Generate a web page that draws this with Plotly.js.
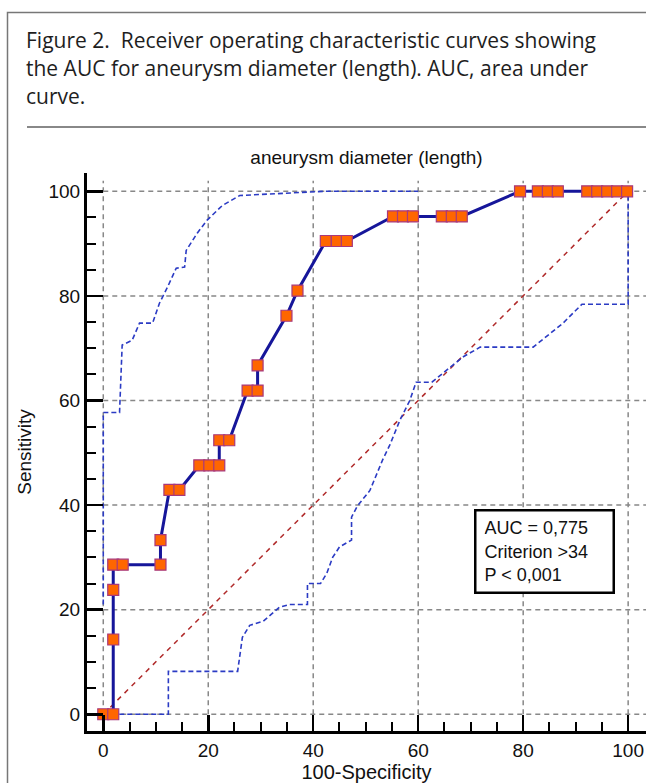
<!DOCTYPE html>
<html>
<head>
<meta charset="utf-8">
<script src="https://cdn.plot.ly/plotly-3.0.1.min.js"></script>
<style>
html,body{margin:0;padding:0;background:#fff;}
#chart{width:646px;height:783px;}
</style>
</head>
<body>
<div id="chart"></div>
<script>
// ROC curve: 100-Specificity (x) vs Sensitivity (y)
const rocX = [0, 1.9, 1.9, 1.9, 1.9, 3.7, 10.9, 10.9, 12.6, 14.5, 18.3, 20.2, 22.1, 22.1, 24.0, 27.5, 29.4, 29.4, 34.9, 37.0, 42.4, 44.5, 46.4, 55.2, 57.1, 59.0, 64.5, 66.4, 68.3, 79.4, 82.8, 84.7, 86.6, 92.2, 94.1, 96.0, 97.9, 99.8];
const rocY = [0, 0, 14.3, 23.8, 28.6, 28.6, 28.6, 33.3, 42.9, 42.9, 47.6, 47.6, 47.6, 52.4, 52.4, 61.9, 61.9, 66.7, 76.2, 81.0, 90.5, 90.5, 90.5, 95.2, 95.2, 95.2, 95.2, 95.2, 95.2, 100, 100, 100, 100, 100, 100, 100, 100, 100];

// Upper 95% confidence bound
const upX = [0, 0, 3.1, 3.6, 5.5, 6.9, 9.4, 10.7, 12.2, 13.9, 15.5, 15.8, 17.9, 19.8, 22.7, 26.0, 30.0, 35.0, 42.0, 60.0];
const upY = [21, 57.7, 57.7, 70.6, 71.5, 74.8, 74.8, 78.6, 81.6, 85.3, 85.5, 88.7, 92.0, 94.5, 97.3, 99.2, 99.4, 99.6, 100, 100];

// Lower 95% confidence bound
const loX = [0, 12.4, 12.4, 25.6, 26.5, 27.9, 30.5, 33.6, 35.5, 38.9, 38.9, 41.4, 42.6, 43.7, 45.0, 47.3, 47.3, 48.4, 50.8, 53.2, 54.6, 56.5, 58.4, 59.6, 62.6, 65.5, 68.5, 71.8, 81.9, 87.6, 91.2, 100, 100];
const loY = [0, 0, 8.2, 8.2, 14.7, 17.0, 17.8, 20.5, 21.0, 21.0, 25.0, 25.0, 27.0, 30.0, 32.0, 33.3, 37.7, 39.8, 42.8, 48.6, 51.5, 56.2, 60.0, 63.5, 63.5, 65.8, 68.3, 70.2, 70.2, 74.8, 78.4, 78.4, 100];

// Reference diagonal
const diagX = [0, 100];
const diagY = [0, 100];

const tickVals = [0, 20, 40, 60, 80, 100];
const tickText = ['0', '20', '40', '60', '80', '100'];

const captionLines = [
  'Figure 2.  Receiver operating characteristic curves showing',
  'the AUC for aneurysm diameter (length). AUC, area under',
  'curve.'
];
const chartTitle = 'aneurysm diameter (length)';
const xTitle = '100-Specificity';
const yTitle = 'Sensitivity';
const statsLines = ['AUC = 0,775', 'Criterion &gt;34', 'P &lt; 0,001'];

const FONT = 'Liberation Sans, Arial, sans-serif';
const CAPFONT = 'Open Sans, Noto Sans, sans-serif';

const traces = [
  {x: diagX, y: diagY, type: 'scatter', mode: 'lines', hoverinfo: 'skip',
   line: {color: '#b02a2a', width: 1.5, dash: '5px,5px'}},
  {x: loX, y: loY, type: 'scatter', mode: 'lines', hoverinfo: 'skip',
   line: {color: '#2b3bc4', width: 1.6, dash: '5px,3px'}},
  {x: upX, y: upY, type: 'scatter', mode: 'lines', hoverinfo: 'skip',
   line: {color: '#2b3bc4', width: 1.6, dash: '5px,3px'}},
  {x: rocX, y: rocY, type: 'scatter', mode: 'lines+markers',
   line: {color: '#16169a', width: 3},
   marker: {symbol: 'square', size: 11, color: '#ff6600', line: {color: '#a8387c', width: 1.2}}}
];

// paper coordinate helpers (plot area: left 87, right 646, top 173, bottom 731)
const PL = 87, PW = 559, PB = 731, PH = 558;
const px = p => (p - PL) / PW;
const py = p => (PB - p) / PH;

const shapes = [];
tickVals.forEach(v => {
  shapes.push({type: 'line', xref: 'x', yref: 'y', x0: v, x1: v, y0: 0, y1: 102, layer: 'below',
    line: {color: '#888', width: 1.5, dash: '5px,4px'}});
  shapes.push({type: 'line', xref: 'x', yref: 'y', x0: 0, x1: 103.4, y0: v, y1: v, layer: 'below',
    line: {color: '#888', width: 1.5, dash: '5px,4px'}});
});
// outer frame and separator
shapes.push({type: 'rect', xref: 'paper', yref: 'paper', x0: px(7.5), x1: 1.1, y0: -0.2, y1: py(12.5),
  line: {color: '#777', width: 1.5}, layer: 'above'});
shapes.push({type: 'line', xref: 'paper', yref: 'paper', x0: px(27), x1: 1.1, y0: py(127), y1: py(127),
  line: {color: '#888', width: 2}});

const captionY = [40, 68, 96];
const annotations = captionLines.map((t, i) => ({
  xref: 'paper', yref: 'paper', x: px(24), y: py(captionY[i]), xanchor: 'left', yanchor: 'middle',
  text: t, showarrow: false, font: {family: CAPFONT, size: 21, color: '#1e1e1e'}
}));
annotations.push({
  xref: 'x', yref: 'y', x: 70.65, y: 39.3, xanchor: 'left', yanchor: 'top',
  text: statsLines.join('<br>'), showarrow: false, align: 'left',
  bordercolor: '#000', borderwidth: 2.5, borderpad: 8, bgcolor: '#fff',
  width: 120, height: 64,
  font: {family: FONT, size: 18, color: '#111'}
});

const axisCommon = {
  showgrid: false, zeroline: false, showline: true, linecolor: '#000', linewidth: 3,
  ticks: 'inside', ticklen: 16, tickwidth: 2.5, tickcolor: '#000',
  tickvals: tickVals, ticktext: tickText,
  minor: {dtick: 5, tick0: 0, ticks: 'inside', ticklen: 9, tickwidth: 2, tickcolor: '#000', showgrid: false},
  tickfont: {family: FONT, size: 19, color: '#111'},
  fixedrange: true
};

const layout = {
  width: 646, height: 783,
  margin: {l: PL, r: 0, t: 173, b: 783 - PB, pad: 0},
  paper_bgcolor: '#fff', plot_bgcolor: '#fff',
  showlegend: false,
  title: {text: chartTitle, font: {family: FONT, size: 19, color: '#111'},
          xref: 'paper', x: 0.5, xanchor: 'center', yref: 'container', y: 1 - 157 / 783, yanchor: 'middle'},
  xaxis: Object.assign({}, axisCommon, {range: [-3.1, 103.4],
    title: {text: xTitle, font: {family: FONT, size: 20, color: '#111'}, standoff: 4}}),
  yaxis: Object.assign({}, axisCommon, {range: [-3.2, 103.5],
    title: {text: yTitle, font: {family: FONT, size: 19, color: '#111'}, standoff: 12}}),
  shapes: shapes,
  annotations: annotations
};

Plotly.newPlot('chart', traces, layout, {displayModeBar: false, staticPlot: true});
</script>
</body>
</html>
